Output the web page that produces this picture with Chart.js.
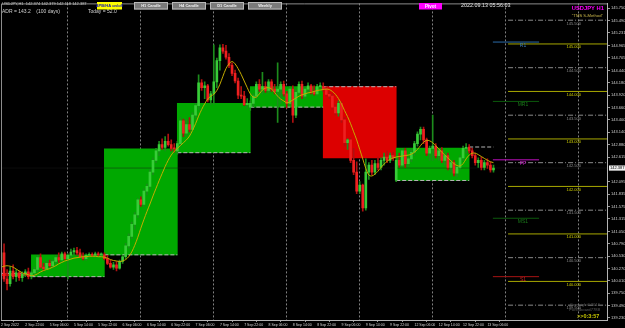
<!DOCTYPE html>
<html>
<head>
<meta charset="utf-8">
<script src="https://cdn.jsdelivr.net/npm/chart.js@4.4.0/dist/chart.umd.min.js"></script>
<style>
  html, body { margin: 0; padding: 0; background: #000; overflow: hidden; }
  canvas { display: block; }
</style>
</head>
<body>
<canvas id="c" width="625" height="328"></canvas>
<script>
// ---- data (USDJPY H1, 2 Sep 14:00 .. 13 Sep 08:00, one entry per hourly bar) ----
const timeTicks = [0, 8, 16, 24, 32, 40, 48, 56, 64, 72, 80, 88, 96, 104, 112, 120, 128, 136, 144, 152, 160];
const timeLabels = ['2 Sep 2022', '2 Sep 22:00', '5 Sep 06:00', '5 Sep 14:00', '5 Sep 22:00', '6 Sep 06:00',
  '6 Sep 14:00', '6 Sep 22:00', '7 Sep 06:00', '7 Sep 14:00', '7 Sep 22:00', '8 Sep 06:00', '8 Sep 14:00',
  '8 Sep 22:00', '9 Sep 06:00', '9 Sep 14:00', '9 Sep 22:00', '12 Sep 06:00', '12 Sep 14:00', '12 Sep 22:00',
  '13 Sep 06:00'];

const opens = [
  140.35,140.60,140.05,139.95,140.22,140.10,140.18,140.08,140.15,140.20,
  140.10,140.18,140.25,140.50,140.30,140.27,140.38,140.33,140.42,140.50,140.45,140.58,140.48,140.55,140.62,140.65,140.60,140.52,140.48,140.55,140.57,140.55,140.58,140.56,
  140.56,140.48,140.38,140.30,140.35,140.28,140.42,140.52,140.75,140.95,141.20,141.40,141.72,141.62,141.90,142.00,142.30,142.55,142.75,142.88,142.82,142.95,142.88,142.80,
  142.75,142.90,143.38,143.12,143.30,143.20,143.50,143.70,144.18,144.08,144.12,143.82,143.95,144.20,144.65,144.92,144.85,144.72,144.55,144.38,144.22,143.92,143.90,143.72,
  143.67,143.75,143.90,144.15,144.05,144.10,144.02,144.20,144.05,144.00,144.05,144.15,143.95,143.75,144.05,143.50,143.98,144.15,143.90,144.05,144.12,144.00,143.95,144.10,
  144.10,144.05,143.94,143.90,143.67,143.55,143.75,143.40,142.92,142.98,142.55,142.30,141.90,142.03,141.55,142.30,142.45,142.30,142.48,142.40,142.55,142.62,142.55,142.65,
  142.13,142.55,142.45,142.75,142.48,142.58,142.72,142.90,143.10,143.20,142.98,142.70,142.80,142.85,142.65,142.75,142.55,142.65,142.40,142.50,142.28,142.40,142.60,142.80,
  142.83,142.75,142.65,142.50,142.55,142.40,142.50,142.45,142.35];
const highs = [
  140.75,140.79,140.25,140.30,140.35,140.25,140.22,140.20,140.25,140.28,
  140.22,140.30,140.55,140.58,140.38,140.42,140.45,140.45,140.55,140.60,140.62,140.62,140.58,140.68,140.70,140.72,140.68,140.60,140.58,140.60,140.60,140.62,140.62,140.60,
  140.60,140.55,140.45,140.40,140.42,140.45,140.55,140.80,141.00,141.25,141.45,141.75,141.78,141.95,142.05,142.35,142.60,142.80,142.95,143.00,143.05,143.10,142.98,142.90,
  142.95,143.45,143.42,143.40,143.45,143.55,143.75,144.35,144.25,144.20,144.15,144.00,144.98,144.70,144.98,144.99,144.97,144.80,144.60,144.45,144.28,144.10,144.00,143.85,
  143.80,143.95,144.20,144.25,144.40,144.20,144.25,144.25,144.15,144.60,144.20,144.22,144.00,144.10,144.12,144.05,144.20,144.22,144.10,144.18,144.15,144.12,144.15,144.18,
  144.18,144.10,144.00,143.95,143.72,143.80,143.78,143.45,143.00,143.02,142.80,142.52,142.10,142.05,142.58,142.50,142.55,142.55,142.62,142.60,142.70,142.75,142.70,142.72,
  142.62,142.70,142.80,142.80,142.62,142.78,142.95,143.15,143.25,143.25,143.02,142.85,143.50,142.90,142.80,142.82,142.70,142.70,142.55,142.55,142.45,142.65,142.85,142.90,
  142.88,142.80,142.70,142.60,142.62,142.55,142.58,142.52,142.45];
const lows = [
  140.25,140.00,139.82,139.90,140.05,140.00,140.02,140.00,140.10,140.05,
  140.05,140.12,140.20,140.28,140.22,140.25,140.30,140.28,140.38,140.40,140.42,140.45,140.05,140.50,140.55,140.55,140.50,140.45,140.44,140.50,140.52,140.52,140.53,140.52,
  140.45,140.35,140.28,140.25,140.22,140.26,140.38,140.48,140.70,140.90,141.10,141.35,141.58,141.58,141.82,141.95,142.25,142.50,142.65,142.78,142.75,142.85,142.75,142.72,
  142.68,142.85,143.05,143.08,143.15,143.18,143.45,143.62,144.02,143.85,143.78,143.72,143.73,144.08,144.45,144.80,144.68,144.50,144.33,144.18,143.85,143.85,143.70,143.65,
  143.60,143.68,143.85,144.00,143.95,143.98,143.98,144.00,143.95,143.35,143.75,143.90,143.65,143.70,143.35,143.45,143.95,143.85,143.85,143.98,143.95,143.92,143.92,144.02,
  144.00,143.90,143.85,143.62,143.50,143.48,143.35,142.85,142.78,142.50,142.25,141.85,141.85,141.48,141.50,142.15,142.25,142.25,142.35,142.35,142.45,142.50,142.50,142.55,
  142.10,142.40,142.42,142.40,142.42,142.52,142.65,142.85,142.98,142.90,142.65,142.55,142.55,142.60,142.55,142.50,142.45,142.35,142.30,142.22,142.20,142.35,142.55,142.70,
  142.70,142.60,142.45,142.40,142.35,142.35,142.38,142.30,142.30];
const closes = [
  140.60,140.05,139.95,140.22,140.10,140.18,140.08,140.15,140.20,140.10,
  140.18,140.25,140.50,140.30,140.27,140.38,140.33,140.42,140.50,140.45,140.58,140.48,140.55,140.62,140.65,140.60,140.52,140.48,140.55,140.57,140.55,140.58,140.56,140.56,
  140.48,140.38,140.30,140.35,140.28,140.42,140.52,140.75,140.95,141.20,141.40,141.72,141.62,141.90,142.00,142.30,142.55,142.75,142.88,142.82,142.95,142.88,142.80,142.79,
  142.90,143.38,143.12,143.30,143.20,143.50,143.70,144.18,144.08,144.12,143.82,143.95,144.20,144.65,144.92,144.85,144.72,144.55,144.38,144.22,143.92,143.90,143.72,143.75,
  143.75,143.90,144.15,144.05,144.10,144.02,144.20,144.05,144.00,144.05,144.15,143.95,143.75,144.05,143.50,143.98,144.15,143.90,144.05,144.12,144.00,143.95,144.10,144.10,
  144.05,143.94,143.90,143.67,143.55,143.75,143.40,142.92,142.98,142.55,142.30,141.90,142.03,141.55,142.30,142.45,142.30,142.48,142.40,142.55,142.62,142.55,142.65,142.60,
  142.55,142.45,142.75,142.48,142.58,142.72,142.90,143.10,143.20,142.98,142.70,142.80,142.85,142.65,142.75,142.55,142.65,142.40,142.50,142.28,142.40,142.60,142.80,142.81,
  142.75,142.65,142.50,142.55,142.40,142.50,142.45,142.35,142.387];
const maValues = [
  140.30,140.32,140.33,140.32,140.30,140.26,140.22,140.18,140.16,140.14,
  140.12,140.13,140.16,140.20,140.23,140.25,140.27,140.30,140.33,140.37,140.40,140.43,140.45,140.47,140.49,140.50,140.51,140.52,140.52,140.53,140.53,140.53,140.52,140.52,
  140.51,140.49,140.46,140.44,140.43,140.42,140.43,140.46,140.52,140.62,140.76,140.93,141.12,141.30,141.47,141.63,141.80,141.96,142.12,142.27,142.42,142.55,142.66,142.74,
  142.80,142.86,142.92,142.98,143.06,143.18,143.32,143.48,143.62,143.74,143.84,143.90,143.94,144.02,144.15,144.32,144.48,144.58,144.63,144.58,144.48,144.36,144.22,144.08,
  143.95,143.88,143.88,143.95,144.03,144.07,144.08,144.05,143.98,143.90,143.84,143.80,143.76,143.78,143.82,143.86,143.90,143.93,143.95,143.97,143.98,144.00,144.02,144.03,
  144.04,144.05,144.04,144.00,143.94,143.85,143.74,143.60,143.47,143.32,143.15,142.98,142.78,142.58,142.38,142.24,142.22,142.26,142.32,142.40,142.47,142.53,142.57,142.60,
  142.62,142.63,142.64,142.65,142.66,142.68,142.72,142.78,142.86,142.93,142.97,142.96,142.92,142.86,142.79,142.72,142.66,142.60,142.54,142.48,142.44,142.43,142.48,142.58,
  142.66,142.70,142.70,142.67,142.63,142.59,142.55,142.52,142.50];

// daily boxes (open -> close), first entry is 2 Sep, last is 13 Sep (still open)
const dayStarts = [-14, 10, 34, 58, 82, 106, 130, 154];
const dayOpens  = [140.17, 140.10, 140.56, 142.71, 143.67, 144.10, 142.125, 142.83];
const dayCloses = [140.12, 140.56, 142.79, 143.75, 144.10, 142.60, 142.81];
const daySeps = [10, 34, 58, 82, 106, 130, 154, 178];

const roundLevels = [145, 144, 143, 142, 141, 140];
const halfLevels = [145.5, 144.5, 143.5, 142.5, 141.5, 140.5, 139.5];
const pivotNames = ['R1', 'MR1', 'PP', 'MS1', 'S1'];
const pivotValues = [145.04, 143.79, 142.56, 141.33, 140.10];

const priceTicks = [145.750, 145.490, 145.231, 144.965, 144.705, 144.440, 144.180, 143.920, 143.660, 143.400,
  143.140, 142.880, 142.615, 142.095, 141.835, 141.575, 141.315, 141.050, 140.790, 140.530, 140.270, 140.010,
  139.750, 139.490, 139.230];

// ---- styling ----
const X_MAX = 199.34;
const FONT = 'Liberation Sans, Arial, sans-serif';
const BULL = '#38cc38', BULL_WICK = '#1c8c1c', BEAR = '#ee2020', BEAR_WICK = '#b01010';
const pivotColors = { R1: '#2a6aa8', MR1: '#0c5a0c', PP: '#c010c0', MS1: '#0c5a0c', S1: '#a81414' };
const pivotText = { R1: '#3a7ab8', MR1: '#1a7a1a', PP: '#d020d0', MS1: '#1a7a1a', S1: '#c82020' };
const lastIdx = closes.length - 1;
const idx = closes.map((_, i) => i);
const up = i => closes[i] >= opens[i];

const hline = (v, a, b, color, dash, order, width) => ({
  type: 'line', data: [{ x: a, y: v }, { x: b, y: v }], borderColor: color, borderWidth: width || 1,
  borderDash: dash || [], pointRadius: 0, order: order, xAxisID: 'x', yAxisID: 'y'
});

const datasets = [];
// daily boxes
datasets.push({
  type: 'bar', grouped: false, barThickness: 73, order: 20, borderWidth: 0,
  data: dayCloses.map((c, k) => ({ x: dayStarts[k] + 12, y: [dayOpens[k], c] })),
  backgroundColor: dayCloses.map((c, k) => c >= dayOpens[k] ? '#00a800' : '#dc0000')
});
// dashed open lines
dayOpens.forEach((o, k) => {
  datasets.push(hline(o, dayStarts[k], Math.min(dayStarts[k] + 24, lastIdx), '#b4b4b4', [4, 2], 15));
});
// bid line
datasets.push(hline(closes[lastIdx], 0, X_MAX, 'rgba(25,25,25,0.45)', [], 14));
// candles
datasets.push({
  type: 'bar', grouped: false, barThickness: 1, order: 6, borderWidth: 0,
  data: idx.map(i => ({ x: i, y: [lows[i], highs[i]] })),
  backgroundColor: idx.map(i => up(i) ? BULL_WICK : BEAR_WICK)
});
datasets.push({
  type: 'bar', grouped: false, barThickness: 2, order: 5, borderWidth: 0, minBarLength: 1,
  data: idx.map(i => ({ x: i, y: [opens[i], closes[i]] })),
  backgroundColor: idx.map(i => up(i) ? BULL : BEAR)
});
// moving average
datasets.push({
  type: 'line', data: idx.map(i => ({ x: i, y: maValues[i] })), borderColor: '#c4ac00', borderWidth: 1,
  pointRadius: 0, tension: 0.35, order: 1
});
// levels on the right
roundLevels.forEach(v => datasets.push(hline(v, 166.8, X_MAX, '#a8a800', [], 3)));
halfLevels.forEach(v => datasets.push(hline(v, 166.8, X_MAX, '#8a8a8a', [5, 2, 1, 2], 3)));
pivotNames.forEach((n, k) => datasets.push(hline(pivotValues[k], 161.8, 177, pivotColors[n], [], 2)));

const overlay = {
  id: 'overlay',
  afterDraw(chart) {
    const { ctx, chartArea: ca, scales: { x, y } } = chart;
    const txt = (s, px, py, color, size, align, weight) => {
      ctx.font = (weight || '') + ' ' + size + 'px ' + FONT;
      ctx.fillStyle = color;
      ctx.textAlign = align || 'left';
      ctx.textBaseline = 'middle';
      ctx.fillText(s, px, py);
    };
    ctx.save();
    // frame
    ctx.strokeStyle = '#8c8c8c';
    ctx.lineWidth = 1;
    ctx.beginPath();
    ctx.moveTo(ca.left + 0.5, ca.bottom);
    ctx.lineTo(ca.left + 0.5, ca.top + 0.5);
    ctx.lineTo(ca.right, ca.top + 0.5);
    ctx.stroke();

    // level labels
    const lx = x.getPixelForValue(186);
    roundLevels.forEach(v => txt(v.toFixed(3), lx, y.getPixelForValue(v) + 3.2, '#d2d200', 4));
    halfLevels.forEach(v => txt(v.toFixed(3), lx, y.getPixelForValue(v) + 3.2, '#8c8c8c', 4));
    const px = x.getPixelForValue(171.7);
    pivotNames.forEach((n, k) => txt(n, px, y.getPixelForValue(pivotValues[k]) + 3.4, pivotText[n], 5, 'center'));

    // current price tag
    const cy = y.getPixelForValue(closes[lastIdx]);
    ctx.fillStyle = '#f0f0f0';
    ctx.fillRect(ca.right + 2, cy - 2.6, 16, 5.2);
    txt(closes[lastIdx].toFixed(3), ca.right + 3, cy + 0.2, '#000', 4);

    // header
    txt('USDJPY,H1  142.374 142.379 142.118 142.387', 2, 3.6, '#c8c8c8', 4);
    txt('ADR = 143.2    (100 days)', 2, 12, '#d0d0d0', 5);
    txt('Today = 52.0', 88, 12, '#d0d0d0', 5);
    ctx.fillStyle = '#ffff00';
    ctx.fillRect(97, 2, 25, 7.5);
    txt('APB/HA on/off', 109.5, 6, '#1010b0', 4, 'center', 'bold');
    [['H1 Candle', 134], ['H4 Candle', 172], ['D1 Candle', 210], ['Weekly', 248]].forEach(([s, bx]) => {
      ctx.fillStyle = '#7a7a7a';
      ctx.fillRect(bx, 2, 34, 7.5);
      ctx.strokeStyle = '#b8b8b8';
      ctx.strokeRect(bx + 0.5, 2.5, 33, 6.5);
      txt(s, bx + 17, 6, '#f0f0f0', 4, 'center', 'bold');
    });
    ctx.fillStyle = '#ff00ff';
    ctx.fillRect(419, 3, 23, 6.5);
    txt('Pivot', 430.5, 6.3, '#ffffff', 4.5, 'center', 'bold');
    txt('2022.09.13 05:56:03', 461, 6, '#e6e6e6', 5.4);
    txt('USDJPY H1', 604, 8.5, '#ff00ff', 5.8, 'right', 'bold');
    txt('"TMS S-Method"', 603, 16, '#cbb84a', 4.2, 'right');

    // footer
    txt('Copyright\u00a92016', 600, 305, '#5a5a5a', 4.2, 'right');
    txt('Forexboard7788', 600, 310, '#5a5a5a', 4.2, 'right');
    txt('>>0:3:57', 577, 316, '#c8c800', 5.5, 'left', 'bold');
    ctx.restore();
  }
};

new Chart(document.getElementById('c'), {
  type: 'bar',
  data: { datasets },
  options: {
    responsive: false,
    animation: false,
    layout: { padding: { left: 1, right: 0, top: 0, bottom: 0 } },
    plugins: { legend: { display: false }, tooltip: { enabled: false } },
    scales: {
      x: {
        type: 'linear', min: 0, max: X_MAX, offset: false, position: 'bottom',
        afterBuildTicks: s => { s.ticks = timeTicks.map(v => ({ value: v })); },
        afterFit: s => { s.height = 8; },
        ticks: {
          autoSkip: false, maxRotation: 0, minRotation: 0, align: 'start', padding: 0.5,
          color: '#d8d8d8', font: { size: 3.5, family: FONT },
          callback: (v, i) => timeLabels[i]
        },
        grid: { drawOnChartArea: false, drawTicks: true, tickLength: 2, color: '#9a9a9a' },
        border: { display: true, color: '#b4b4b4' }
      },
      xd: {
        type: 'linear', min: 0, max: X_MAX, offset: false, position: 'bottom',
        afterBuildTicks: s => { s.ticks = daySeps.map(v => ({ value: v })); },
        afterFit: s => { s.height = 0; },
        ticks: { display: false },
        grid: { drawOnChartArea: true, drawTicks: false, color: '#808080', lineWidth: 1 },
        border: { display: false, dash: [2, 2] }
      },
      y: {
        type: 'linear', position: 'right', min: 139.1875, max: 145.854,
        afterBuildTicks: s => { s.ticks = priceTicks.map(v => ({ value: v })); },
        afterFit: s => { s.width = 18; },
        ticks: {
          autoSkip: false, padding: 1, color: '#cfcfcf', font: { size: 4, family: FONT },
          callback: v => Number(v).toFixed(3)
        },
        grid: { drawOnChartArea: false, drawTicks: true, tickLength: 3, color: '#9a9a9a' },
        border: { color: '#b4b4b4' }
      }
    }
  },
  plugins: [overlay]
});
</script>
</body>
</html>
